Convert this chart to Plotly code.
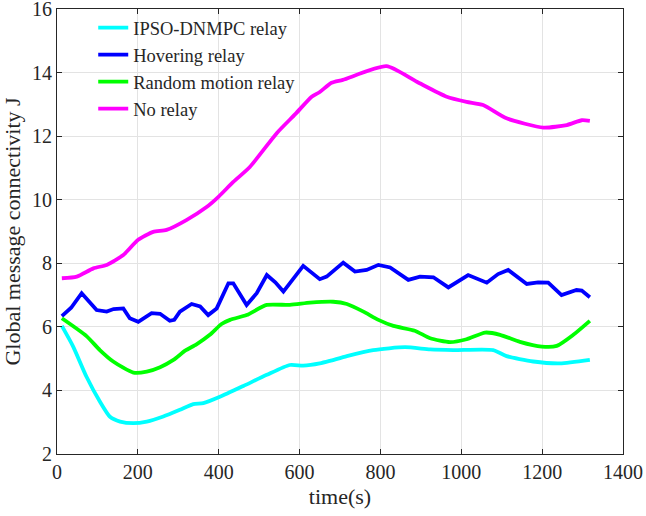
import plotly.graph_objects as go

# ---- data ----
ipso_x = [12, 40, 73, 106, 131, 156, 189, 222, 263, 304, 337, 362, 403, 461, 519, 576, 609, 650, 675, 717, 782, 861, 923, 980, 1079, 1112, 1178, 1244, 1318]
ipso_y = [6.03, 5.38, 4.43, 3.65, 3.17, 3.02, 2.97, 3.02, 3.18, 3.39, 3.57, 3.60, 3.80, 4.14, 4.49, 4.80, 4.78, 4.85, 4.93, 5.08, 5.27, 5.36, 5.29, 5.27, 5.27, 5.08, 4.91, 4.85, 4.96]

hover_x = [12, 35, 61, 98, 123, 140, 164, 180, 201, 234, 255, 279, 290, 304, 333, 354, 374, 395, 424, 436, 469, 494, 519, 540, 560, 609, 650, 667, 708, 737, 766, 795, 824, 869, 898, 931, 968, 1017, 1063, 1091, 1116, 1162, 1190, 1215, 1248, 1285, 1298, 1318]
hover_y = [6.34, 6.60, 7.06, 6.53, 6.48, 6.56, 6.58, 6.27, 6.16, 6.43, 6.41, 6.19, 6.22, 6.48, 6.72, 6.64, 6.37, 6.58, 7.37, 7.37, 6.69, 7.06, 7.63, 7.40, 7.11, 7.92, 7.50, 7.58, 8.02, 7.74, 7.79, 7.95, 7.87, 7.48, 7.58, 7.56, 7.24, 7.63, 7.39, 7.66, 7.79, 7.35, 7.40, 7.39, 7.00, 7.16, 7.14, 6.93]

random_x = [12, 73, 106, 139, 189, 222, 255, 288, 317, 345, 378, 407, 428, 469, 519, 576, 626, 683, 717, 758, 795, 832, 885, 923, 972, 1013, 1059, 1096, 1145, 1199, 1236, 1277, 1318]
random_y = [6.27, 5.71, 5.27, 4.91, 4.56, 4.59, 4.73, 4.96, 5.25, 5.45, 5.75, 6.09, 6.22, 6.37, 6.69, 6.69, 6.76, 6.79, 6.72, 6.48, 6.22, 6.03, 5.88, 5.64, 5.52, 5.61, 5.82, 5.75, 5.53, 5.38, 5.40, 5.75, 6.19]

norelay_x = [12, 49, 90, 123, 164, 200, 238, 271, 320, 370, 400, 436, 477, 544, 590, 630, 650, 679, 707, 815, 890, 964, 1013, 1054, 1112, 1203, 1261, 1298, 1318]
norelay_y = [7.53, 7.58, 7.84, 7.95, 8.26, 8.73, 8.99, 9.05, 9.36, 9.77, 10.10, 10.56, 11.03, 12.10, 12.70, 13.24, 13.39, 13.68, 13.77, 14.20, 13.71, 13.24, 13.08, 12.98, 12.56, 12.27, 12.35, 12.50, 12.48]

names = ["IPSO-DNMPC relay", "Hovering relay", "Random motion relay", "No relay"]
colors = ["#00FFFF", "#0000FF", "#00FF00", "#FF00FF"]

x_ticks = [0, 200, 400, 600, 800, 1000, 1200, 1400]
y_ticks = [2, 4, 6, 8, 10, 12, 14, 16]

FONT = "Liberation Serif, Times New Roman, serif"

fig = go.Figure()
series = [(ipso_x, ipso_y), (hover_x, hover_y), (random_x, random_y), (norelay_x, norelay_y)]
for (xs, ys), name, col in zip(series, names, colors):
    shape = "linear" if name == "Hovering relay" else "spline"
    fig.add_trace(go.Scatter(x=xs, y=ys, mode="lines", name=name,
                             line=dict(color=col, width=3.8, shape=shape, smoothing=0.6)))

axis_common = dict(
    automargin=False,
    showgrid=True, gridcolor="#e3e3e3", gridwidth=1,
    showline=True, linecolor="#262626", linewidth=1, mirror="ticks",
    ticks="inside", ticklen=5, tickcolor="#262626", tickwidth=1,
    zeroline=False, tickfont=dict(family=FONT, size=20, color="#262626"),
    ticklabeloverflow="allow",
)

fig.update_layout(
    width=646, height=516,
    margin=dict(l=57, r=23, t=9, b=62),
    paper_bgcolor="white", plot_bgcolor="white",
    font=dict(family=FONT, color="#262626"),
    showlegend=True,
    legend=dict(x=0.064, y=1.0, xanchor="left", yanchor="top",
                bgcolor="rgba(255,255,255,0)", borderwidth=0,
                font=dict(family=FONT, size=18.5, color="#262626"),
                tracegroupgap=0, itemwidth=30),
    xaxis=dict(range=[0, 1400], tickmode="array", tickvals=x_ticks,
               title=dict(text="time(s)", font=dict(family=FONT, size=22), standoff=6),
               **axis_common),
    yaxis=dict(range=[2, 16.0001], tickmode="array", tickvals=y_ticks,
               title=dict(text="Global message connectivity J", font=dict(family=FONT, size=22), standoff=9),
               **axis_common),
)

fig.write_html("out.html", post_script="document.body.style.margin='0';",
               config={"displayModeBar": False})
